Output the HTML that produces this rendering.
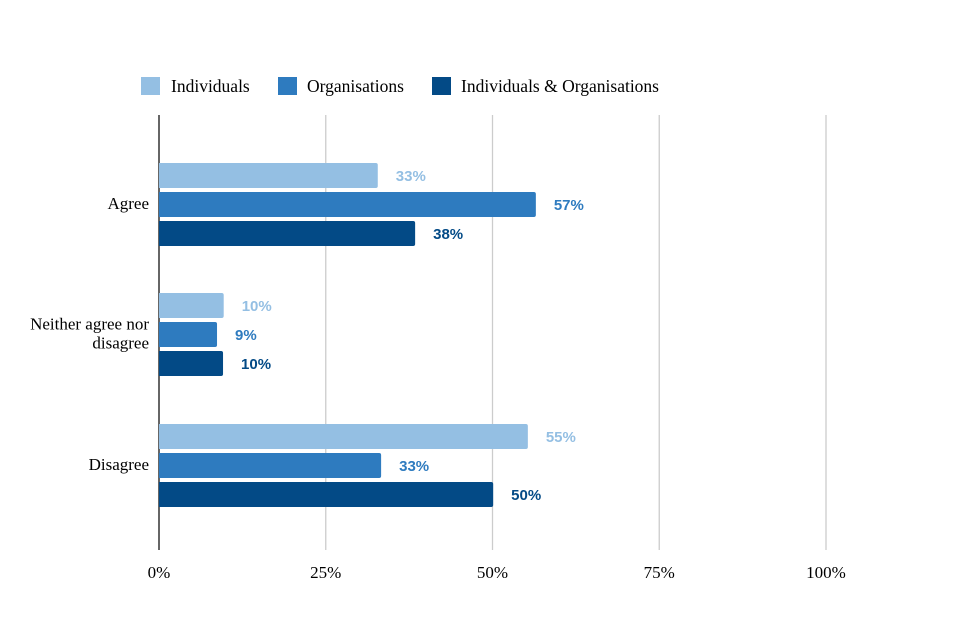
<!DOCTYPE html>
<html><head><meta charset="utf-8"><style>
body{margin:0;background:#fff;width:960px;height:640px;overflow:hidden}
svg{display:block}
.serif{font-family:"Liberation Serif",serif;font-size:17px;fill:#000}
.leg{font-family:"Liberation Serif",serif;font-size:17.5px;fill:#000}
.val{font-family:"Liberation Sans",sans-serif;font-size:15px;font-weight:bold}
</style></head><body>
<svg id="chart" width="960" height="640">
<g>
<rect x="141" y="77" width="19" height="18" fill="#94bfe3"/>
<text x="171" y="92" class="leg">Individuals</text>
<rect x="278" y="77" width="19" height="18" fill="#2e7bbf"/>
<text x="307" y="92" class="leg">Organisations</text>
<rect x="432" y="77" width="19" height="18" fill="#034a86"/>
<text x="461" y="92" class="leg">Individuals &amp; Organisations</text>
</g>
<g id="grid"></g><g id="bars"></g><g id="labels"></g>
</svg>
<script>
const categories=["Agree","Neither agree nor|disagree","Disagree"];
const individuals=[32.8,9.7,55.3];
const organisations=[56.5,8.7,33.3];
const both=[38.4,9.6,50.1];
const printedInd=["33%","10%","55%"];
const printedOrg=["57%","9%","33%"];
const printedBoth=["38%","10%","50%"];
const ticks=[0,25,50,75,100];
const tickLabels=["0%","25%","50%","75%","100%"];
(function(){
const NS="http://www.w3.org/2000/svg";
const x0=159,pxPer=6.67,plotTop=115,plotBottom=550;
const xs=v=>x0+v*pxPer;
const groupTop=[163,293,424];
function mk(t,a,p){const e=document.createElementNS(NS,t);for(const k in a)e.setAttribute(k,a[k]);p.appendChild(e);return e;}
const grid=document.getElementById('grid'),bars=document.getElementById('bars'),labels=document.getElementById('labels');
ticks.forEach((t,i)=>{
 const l=mk('line',{x1:xs(t),x2:xs(t),y1:plotTop,y2:plotBottom,stroke:i==0?'#333':'#ccc','stroke-width':i==0?1.5:1.3},grid);
 
 
 const tx=mk('text',{x:xs(t),y:578,'text-anchor':'middle',class:'serif'},labels);
 tx.textContent=tickLabels[i];
 
 
});
const series=[[individuals,printedInd,'#94bfe3','individuals'],[organisations,printedOrg,'#2e7bbf','organisations'],[both,printedBoth,'#034a86','both']];
categories.forEach((c,ci)=>{
 series.forEach((s,si)=>{
  const y=groupTop[ci]+si*29;
  const w=xs(s[0][ci])-x0;
  const r=mk('path',{d:`M${x0} ${y}h${w-2}q2 0 2 2v21q0 2 -2 2h${-(w-2)}z`,fill:s[2]},bars);
  
  
  const t=mk('text',{x:xs(s[0][ci])+18,y:y+18,class:'val',fill:s[2]},labels);
  t.textContent=s[1][ci];
  
  
 });
 const lines=c.split('|');
 const cy=groupTop[ci]+41;
 lines.forEach((ln,li)=>{
  const t=mk('text',{x:149,y:cy+5+(li-(lines.length-1)/2)*19,'text-anchor':'end',class:'serif'},labels);
  t.textContent=ln;
  
  
 });
});
})();
</script>
</body></html>
